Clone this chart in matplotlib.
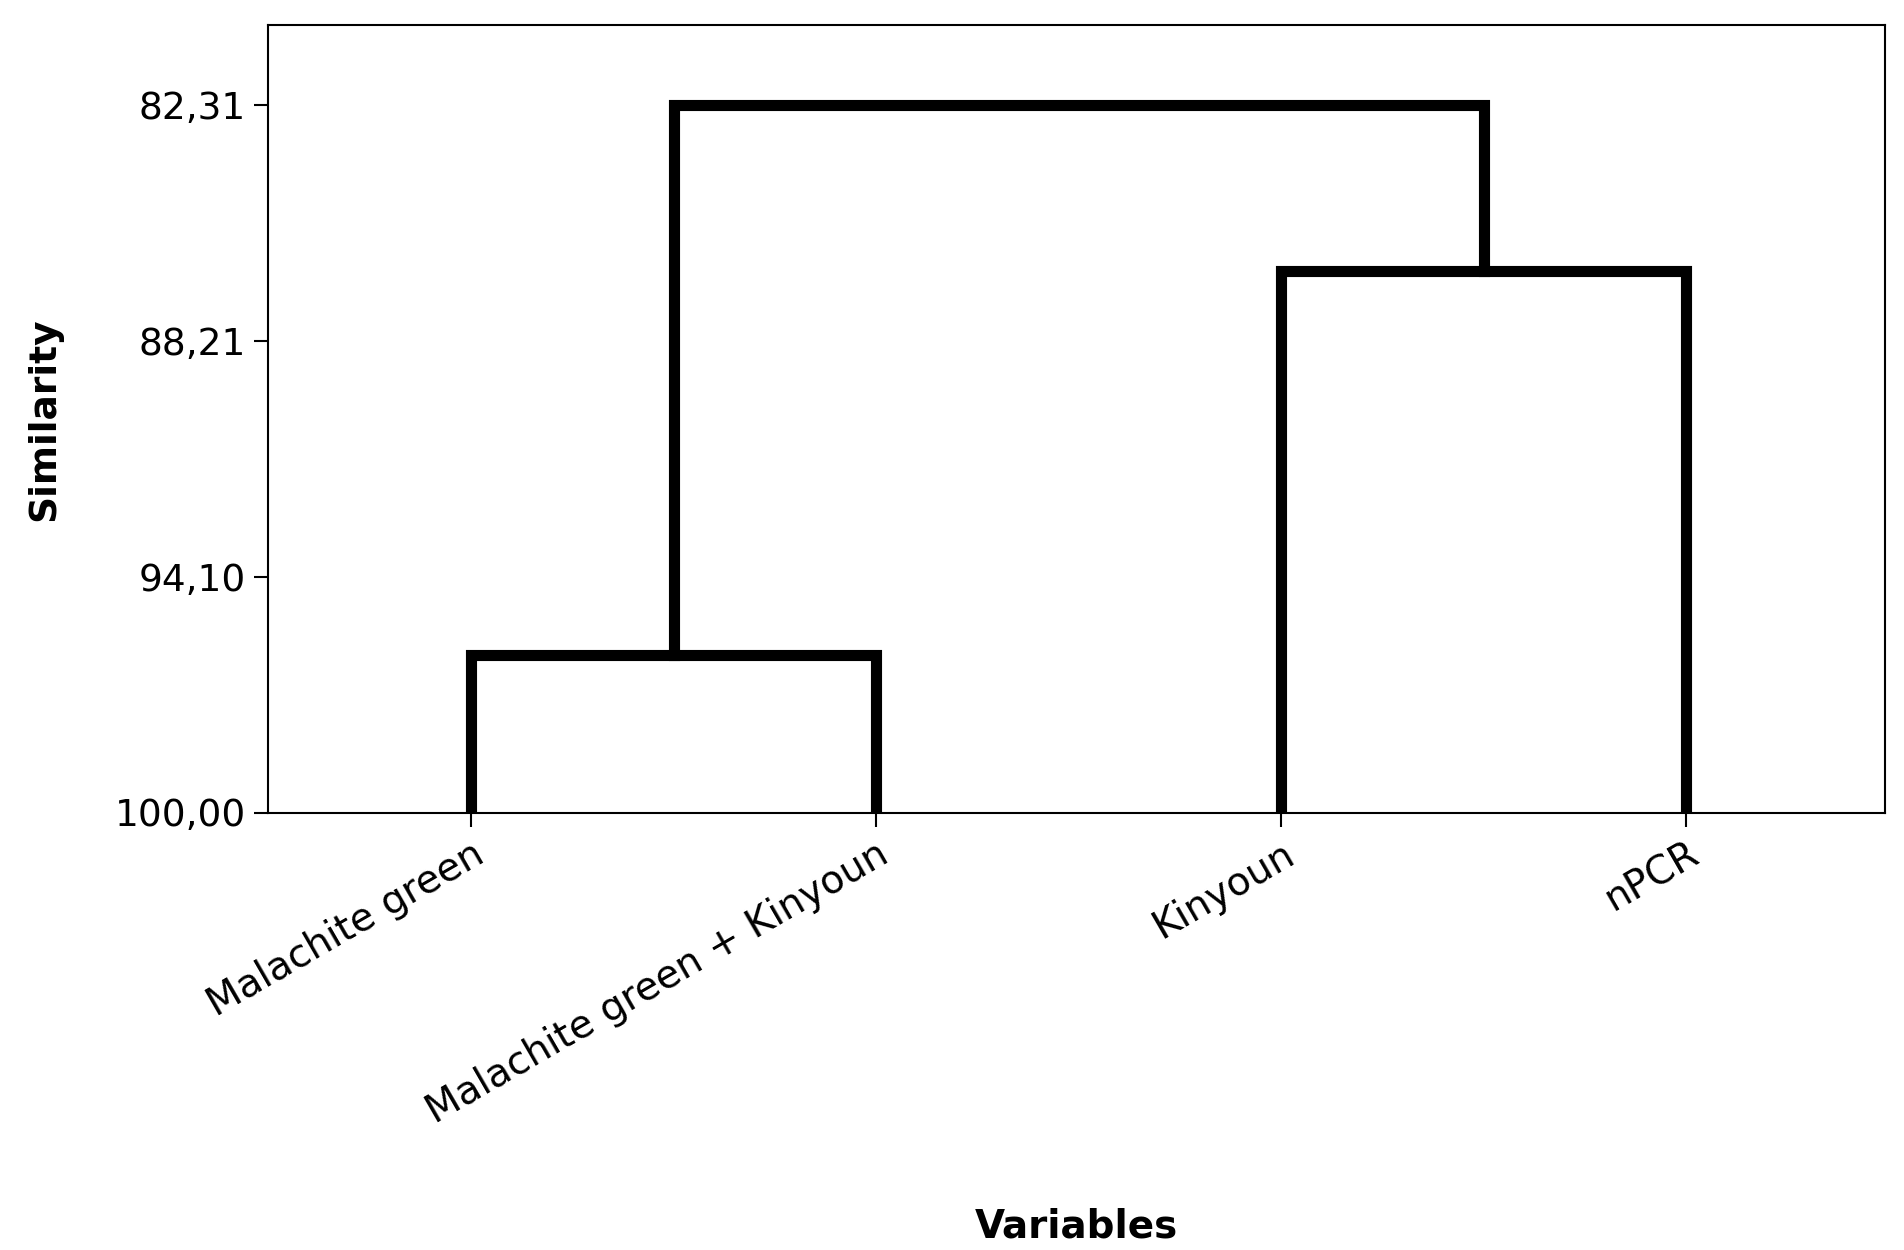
import matplotlib
matplotlib.use("Agg")
import matplotlib.pyplot as plt

leaves = ["Malachite green", "Malachite green + Kinyoun", "Kinyoun", "nPCR"]
leaf_x = [1, 2, 3, 4]
h_mg = 96.05     # Malachite green + MG+Kinyoun
h_kn = 86.45     # Kinyoun + nPCR
h_top = 82.31
yticks = [82.31, 88.21, 94.10, 100.00]
ytick_labels = ["82,31", "88,21", "94,10", "100,00"]

fig = plt.figure(figsize=(19.04, 12.5), dpi=100)
ax = fig.add_axes([0.141, 0.350, 0.849, 0.630])
lw = 8
kw = dict(color="black", lw=lw, solid_capstyle="projecting", solid_joinstyle="miter")

def link(x1, x2, y1, y2, h):
    ax.plot([x1, x1, x2, x2], [y1, h, h, y2], **kw)

link(leaf_x[0], leaf_x[1], 100, 100, h_mg)
link(leaf_x[2], leaf_x[3], 100, 100, h_kn)
mid1 = (leaf_x[0] + leaf_x[1]) / 2
mid2 = (leaf_x[2] + leaf_x[3]) / 2
link(mid1, mid2, h_mg, h_kn, h_top)

ax.set_xlim(0.5, 4.49)
ax.set_ylim(100, 80.30)
ax.set_yticks(yticks)
ax.set_yticklabels(ytick_labels, fontsize=27)
ax.set_xticks(leaf_x)
ax.set_xticklabels(leaves, rotation=30, ha="right", rotation_mode="anchor", fontsize=28)
ax.tick_params(length=10, width=1.5, pad=6)
for s in ax.spines.values():
    s.set_linewidth(1.5)
ax.set_ylabel("Similarity", fontsize=27, fontweight="bold", labelpad=38)
ax.set_xlabel("Variables", fontsize=28, fontweight="bold", labelpad=55)
fig.savefig("out.png", dpi=100)
